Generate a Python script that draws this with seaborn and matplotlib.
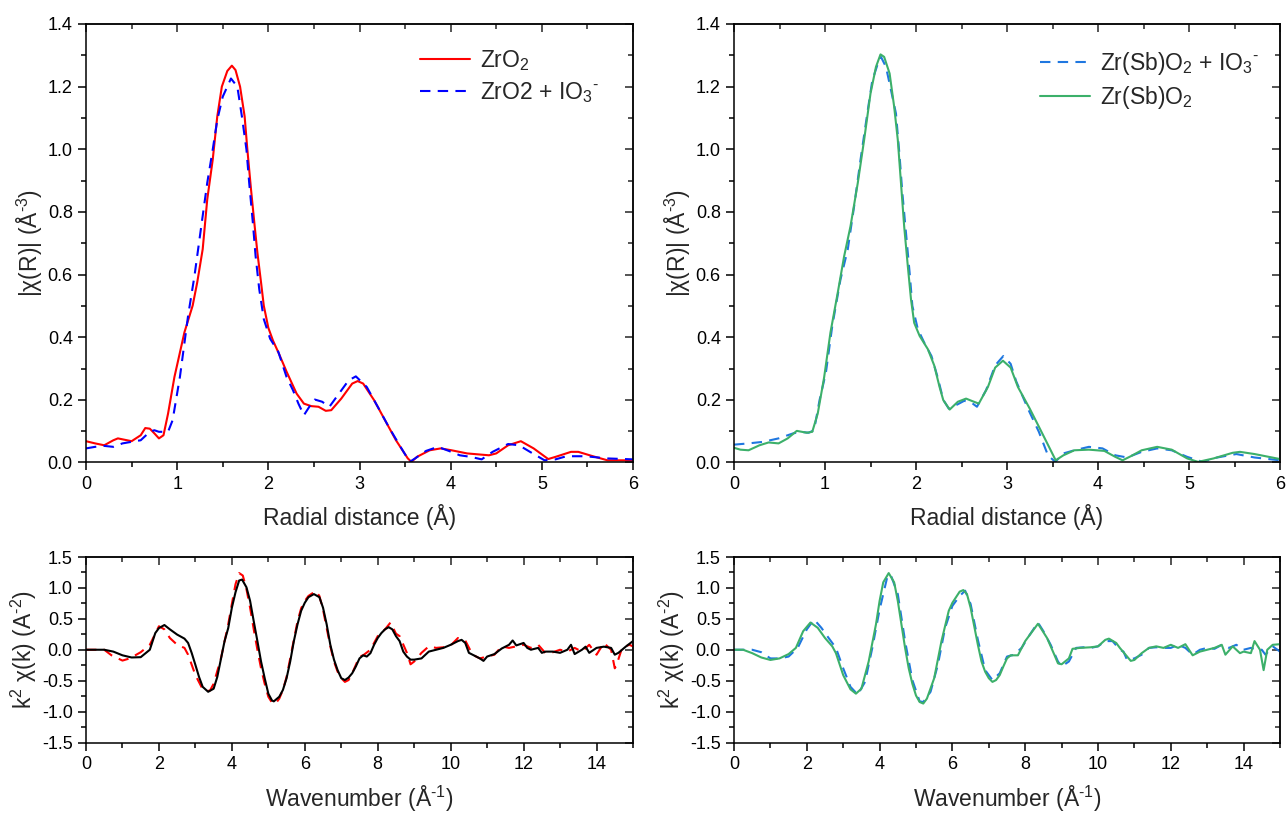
import numpy as np
import pandas as pd
import seaborn as sns
import matplotlib
matplotlib.use("Agg")
import matplotlib.pyplot as plt
from matplotlib.ticker import MultipleLocator

# ---------------- data: R-space (top-left) ----------------
r_zro2 = [0, 0.1, 0.2, 0.3, 0.35, 0.4, 0.5, 0.6, 0.65, 0.7, 0.75, 0.8, 0.85, 0.9, 0.97,
          1.08, 1.17, 1.22, 1.28, 1.33, 1.39, 1.44, 1.49, 1.55, 1.60, 1.64, 1.69, 1.74,
          1.77, 1.81, 1.85, 1.88, 1.92, 1.95, 2.0, 2.05, 2.12, 2.2, 2.31, 2.39, 2.47,
          2.55, 2.63, 2.69, 2.8, 2.92, 2.98, 3.04, 3.16, 3.28, 3.4, 3.53, 3.57, 3.63,
          3.77, 3.89, 4.01, 4.18, 4.42, 4.5, 4.63, 4.77, 4.91, 5.07, 5.15, 5.32, 5.4,
          5.56, 5.72, 6.0]
chi_zro2 = [0.068, 0.061, 0.055, 0.071, 0.077, 0.074, 0.068, 0.087, 0.110, 0.108, 0.093,
            0.077, 0.087, 0.156, 0.273, 0.416, 0.501, 0.575, 0.681, 0.840, 0.967, 1.105,
            1.200, 1.250, 1.267, 1.253, 1.200, 1.105, 0.999, 0.872, 0.755, 0.670, 0.575,
            0.501, 0.430, 0.390, 0.345, 0.290, 0.220, 0.188, 0.180, 0.178, 0.165, 0.167,
            0.204, 0.252, 0.260, 0.252, 0.199, 0.135, 0.071, 0.013, 0.002, 0.018, 0.039,
            0.045, 0.039, 0.029, 0.023, 0.029, 0.055, 0.068, 0.045, 0.011, 0.018, 0.034,
            0.034, 0.020, 0.007, 0.007]

r_zro2_io3 = [0, 0.1, 0.2, 0.3, 0.4, 0.5, 0.6, 0.7, 0.75, 0.8, 0.9, 0.95, 1.03, 1.12,
              1.19, 1.26, 1.33, 1.39, 1.44, 1.50, 1.59, 1.66, 1.71, 1.76, 1.79, 1.83,
              1.86, 1.90, 1.95, 2.02, 2.11, 2.2, 2.27, 2.33, 2.39, 2.45, 2.51, 2.59,
              2.67, 2.75, 2.88, 2.96, 3.08, 3.2, 3.32, 3.45, 3.55, 3.61, 3.73, 3.86,
              3.98, 4.1, 4.22, 4.34, 4.46, 4.63, 4.75, 4.87, 5.03, 5.15, 5.27, 5.48,
              5.72, 6.0]
chi_zro2_io3 = [0.045, 0.05, 0.053, 0.05, 0.061, 0.066, 0.071, 0.098, 0.103, 0.098, 0.098,
                0.135, 0.273, 0.469, 0.596, 0.745, 0.893, 0.999, 1.094, 1.168, 1.226,
                1.200, 1.105, 0.999, 0.893, 0.766, 0.660, 0.554, 0.458, 0.395, 0.353,
                0.273, 0.231, 0.188, 0.151, 0.178, 0.201, 0.194, 0.178, 0.210, 0.262,
                0.275, 0.241, 0.178, 0.114, 0.050, 0.002, 0.013, 0.037, 0.050, 0.037,
                0.023, 0.018, 0.010, 0.034, 0.059, 0.055, 0.034, 0.007, 0.010, 0.020,
                0.020, 0.013, 0.010]

# ---------------- data: R-space (top-right) ----------------
r_sb = [0, 0.07, 0.16, 0.28, 0.38, 0.49, 0.59, 0.69, 0.8, 0.86, 0.92, 0.99, 1.06, 1.14,
        1.21, 1.28, 1.36, 1.43, 1.5, 1.56, 1.61, 1.65, 1.71, 1.76, 1.8, 1.835, 1.87,
        1.91, 1.945, 1.98, 2.04, 2.13, 2.2, 2.26, 2.3, 2.37, 2.46, 2.55, 2.61, 2.69,
        2.79, 2.87, 2.955, 3.04, 3.12, 3.25, 3.37, 3.47, 3.535, 3.62, 3.74, 3.9, 4.07,
        4.19, 4.27, 4.36, 4.48, 4.65, 4.81, 4.98, 5.1, 5.27, 5.48, 5.56, 5.72, 6.0]
chi_sb = [0.047, 0.041, 0.039, 0.055, 0.064, 0.061, 0.077, 0.101, 0.095, 0.098, 0.156,
          0.271, 0.415, 0.542, 0.658, 0.754, 0.892, 1.030, 1.178, 1.263, 1.303, 1.295,
          1.242, 1.136, 1.030, 0.892, 0.754, 0.627, 0.521, 0.446, 0.404, 0.362, 0.310,
          0.240, 0.199, 0.169, 0.194, 0.204, 0.197, 0.188, 0.241, 0.303, 0.325, 0.303,
          0.241, 0.172, 0.103, 0.045, 0.007, 0.023, 0.039, 0.041, 0.037, 0.018, 0.007,
          0.020, 0.039, 0.050, 0.041, 0.013, 0.002, 0.013, 0.031, 0.034, 0.027, 0.011]

r_sb_io3 = [0, 0.16, 0.32, 0.49, 0.65, 0.73, 0.82, 0.88, 0.94, 1.01, 1.08, 1.17, 1.25,
            1.32, 1.39, 1.47, 1.52, 1.58, 1.615, 1.67, 1.725, 1.78, 1.82, 1.85, 1.89,
            1.93, 1.96, 2.02, 2.09, 2.17, 2.24, 2.3, 2.36, 2.44, 2.53, 2.61, 2.67, 2.77,
            2.87, 2.96, 3.04, 3.1, 3.23, 3.35, 3.45, 3.53, 3.62, 3.74, 3.9, 4.05, 4.19,
            4.32, 4.48, 4.65, 4.81, 4.98, 5.15, 5.31, 5.52, 5.72, 6.0]
chi_sb_io3 = [0.057, 0.061, 0.066, 0.077, 0.093, 0.098, 0.095, 0.103, 0.199, 0.287,
              0.436, 0.584, 0.680, 0.818, 0.966, 1.125, 1.220, 1.273, 1.295, 1.263,
              1.189, 1.114, 0.977, 0.861, 0.733, 0.606, 0.500, 0.426, 0.383, 0.340,
              0.270, 0.200, 0.172, 0.183, 0.197, 0.191, 0.178, 0.231, 0.310, 0.340,
              0.315, 0.260, 0.172, 0.098, 0.023, 0.002, 0.029, 0.039, 0.050, 0.045,
              0.023, 0.016, 0.034, 0.045, 0.039, 0.018, 0.002, 0.016, 0.027, 0.016, 0.007]

# ---------------- data: k-space (bottom-left) ----------------
k_zro2 = [0, 0.5, 0.75, 1.0, 1.25, 1.5, 1.75, 1.9, 2.0, 2.15, 2.3, 2.5, 2.7, 2.8, 2.9,
          3.0, 3.1, 3.2, 3.35, 3.5, 3.6, 3.7, 3.8, 3.9, 4.0, 4.1, 4.2, 4.28, 4.4, 4.5,
          4.6, 4.7, 4.8, 4.9, 5.0, 5.1, 5.15, 5.3, 5.4, 5.5, 5.6, 5.7, 5.8, 5.9, 6.0,
          6.1, 6.25, 6.4, 6.5, 6.6, 6.7, 6.8, 6.9, 7.0, 7.1, 7.2, 7.3, 7.4, 7.5, 7.6,
          7.7, 7.8, 7.9, 8.0, 8.1, 8.2, 8.3, 8.4, 8.5, 8.6, 8.7, 8.8, 8.9, 9.0, 9.2,
          9.4, 9.6, 9.8, 10.0, 10.2, 10.3, 10.4, 10.5, 10.6, 10.8, 10.9, 11.0, 11.2,
          11.4, 11.6, 11.7, 11.8, 11.9, 12.0, 12.1, 12.2, 12.4, 12.5, 12.6, 12.8, 13.0,
          13.2, 13.3, 13.4, 13.6, 13.7, 13.8, 14.0, 14.2, 14.4, 14.5, 14.6, 14.8, 15.0]
kchi_zro2 = [0, 0, -0.03, -0.09, -0.125, -0.12, 0, 0.27, 0.35, 0.40, 0.33, 0.245, 0.18,
             0.11, -0.055, -0.245, -0.44, -0.60, -0.68, -0.63, -0.44, -0.15, 0.14, 0.35,
             0.68, 0.93, 1.12, 1.135, 1.01, 0.79, 0.46, 0.14, -0.19, -0.46, -0.71, -0.82,
             -0.835, -0.76, -0.65, -0.46, -0.19, 0.14, 0.41, 0.63, 0.76, 0.85, 0.90, 0.85,
             0.68, 0.41, 0.08, -0.16, -0.33, -0.46, -0.49, -0.45, -0.38, -0.27, -0.14,
             -0.09, -0.11, -0.055, 0.08, 0.19, 0.27, 0.33, 0.365, 0.33, 0.22, 0.14, -0.03,
             -0.11, -0.16, -0.16, -0.14, -0.03, 0.0, 0.03, 0.08, 0.14, 0.16, 0.11, -0.05,
             -0.08, -0.14, -0.18, -0.11, -0.07, 0.02, 0.08, 0.15, 0.07, 0.09, 0.11, 0.03,
             0.0, 0.03, -0.05, -0.03, -0.03, -0.05, 0.0, 0.08, -0.07, 0.0, 0.05, -0.05,
             0.03, 0.05, 0.03, -0.08, -0.05, 0.05, 0.14]

k_zro2_io3 = [0, 0.5, 0.7, 1.0, 1.2, 1.5, 1.75, 2.0, 2.15, 2.3, 2.5, 2.7, 2.8, 3.0, 3.2,
              3.3, 3.4, 3.5, 3.7, 3.9, 4.0, 4.1, 4.2, 4.3, 4.4, 4.5, 4.6, 4.7, 4.8, 4.9,
              5.0, 5.1, 5.2, 5.3, 5.4, 5.5, 5.6, 5.7, 5.8, 5.9, 6.0, 6.1, 6.3, 6.4, 6.5,
              6.6, 6.7, 6.8, 6.9, 7.0, 7.1, 7.2, 7.3, 7.4, 7.5, 7.6, 7.8, 8.0, 8.2, 8.35,
              8.5, 8.6, 8.8, 8.9, 9.0, 9.2, 9.4, 9.6, 9.8, 10.0, 10.2, 10.4, 10.6, 10.8,
              11.0, 11.2, 11.4, 11.6, 11.8, 12.0, 12.2, 12.4, 12.6, 12.8, 13.0, 13.2,
              13.4, 13.6, 13.8, 14.0, 14.2, 14.4, 14.5, 14.55, 14.7, 14.9, 15.0]
kchi_zro2_io3 = [0, 0, -0.09, -0.175, -0.14, -0.04, 0.08, 0.38, 0.33, 0.19, 0.08, 0.03,
                 -0.08, -0.41, -0.64, -0.67, -0.66, -0.55, -0.14, 0.41, 0.74, 1.06, 1.24,
                 1.20, 0.98, 0.68, 0.33, 0.0, -0.30, -0.55, -0.76, -0.855, -0.87, -0.79,
                 -0.65, -0.44, -0.14, 0.16, 0.46, 0.67, 0.79, 0.87, 0.95, 0.87, 0.65, 0.35,
                 0.055, -0.19, -0.355, -0.46, -0.52, -0.49, -0.38, -0.245, -0.11, -0.09,
                 0.0, 0.22, 0.33, 0.44, 0.26, 0.22, -0.05, -0.235, -0.19, -0.05, 0.055,
                 0.03, 0.04, 0.07, 0.19, 0.15, -0.08, -0.14, -0.11, -0.08, 0.055, 0.03,
                 0.055, 0.08, 0.03, 0.08, -0.055, -0.04, 0.0, -0.03, 0.03, -0.03, 0.08,
                 -0.08, 0.11, 0.0, -0.30, -0.245, 0.03, 0.08, 0.055]

# ---------------- data: k-space (bottom-right) ----------------
k_sb = [0, 0.25, 0.5, 0.75, 1.0, 1.25, 1.5, 1.7, 1.9, 2.1, 2.3, 2.5, 2.7, 2.8, 3.0, 3.2,
        3.35, 3.5, 3.7, 3.9, 4.0, 4.1, 4.25, 4.4, 4.5, 4.6, 4.7, 4.8, 4.9, 5.0, 5.1, 5.2,
        5.3, 5.5, 5.7, 5.9, 6.0, 6.2, 6.3, 6.4, 6.5, 6.6, 6.7, 6.8, 6.9, 7.0, 7.1, 7.2,
        7.3, 7.4, 7.5, 7.6, 7.8, 8.0, 8.2, 8.35, 8.45, 8.6, 8.8, 8.9, 9.0, 9.2, 9.3, 9.5,
        9.8, 10.0, 10.2, 10.3, 10.5, 10.6, 10.8, 10.9, 11.0, 11.2, 11.4, 11.6, 11.8,
        12.0, 12.2, 12.4, 12.6, 12.8, 13.0, 13.2, 13.4, 13.5, 13.7, 13.9, 14.0, 14.2,
        14.3, 14.45, 14.55, 14.65, 14.8, 15.0]
kchi_sb = [0, 0, -0.055, -0.125, -0.165, -0.14, -0.07, 0.03, 0.30, 0.44, 0.355, 0.19,
           0.055, -0.055, -0.41, -0.64, -0.71, -0.63, -0.19, 0.41, 0.79, 1.09, 1.24, 1.09,
           0.79, 0.41, 0.03, -0.30, -0.55, -0.74, -0.845, -0.87, -0.79, -0.46, 0.14, 0.63,
           0.76, 0.94, 0.965, 0.90, 0.68, 0.38, 0.08, -0.19, -0.355, -0.46, -0.52, -0.49,
           -0.41, -0.27, -0.14, -0.09, -0.09, 0.14, 0.30, 0.42, 0.33, 0.19, -0.08, -0.22,
           -0.235, -0.14, 0.015, 0.03, 0.04, 0.055, 0.16, 0.18, 0.11, 0.03, -0.11, -0.18,
           -0.165, -0.055, 0.03, 0.055, 0.03, 0.08, 0.03, 0.09, -0.09, -0.03, 0.0, 0.03,
           0.08, -0.08, 0.055, -0.055, -0.03, -0.055, 0.14, 0.0, -0.33, 0.0, 0.08, 0.09]

k_sb_io3 = [0, 0.5, 0.75, 1.0, 1.25, 1.5, 1.75, 2.0, 2.2, 2.4, 2.6, 2.8, 3.0, 3.2, 3.4,
            3.6, 3.8, 4.0, 4.2, 4.3, 4.5, 4.7, 4.9, 5.1, 5.2, 5.4, 5.6, 5.8, 6.0, 6.2,
            6.35, 6.5, 6.7, 6.9, 7.1, 7.3, 7.5, 7.7, 7.9, 8.1, 8.35, 8.5, 8.7, 8.9, 9.0,
            9.2, 9.4, 9.6, 9.8, 10.0, 10.2, 10.4, 10.6, 10.7, 10.8, 11.0, 11.2, 11.4,
            11.6, 11.8, 12.0, 12.2, 12.4, 12.6, 12.8, 13.0, 13.2, 13.4, 13.6, 13.8, 14.0,
            14.2, 14.4, 14.5, 14.6, 14.8, 15.0]
kchi_sb_io3 = [0, 0, -0.04, -0.14, -0.14, -0.11, 0.03, 0.33, 0.49, 0.355, 0.19, 0.03,
               -0.30, -0.60, -0.725, -0.52, 0.03, 0.65, 1.15, 1.22, 0.90, 0.14, -0.49,
               -0.835, -0.845, -0.68, -0.245, 0.355, 0.71, 0.87, 0.955, 0.74, 0.16,
               -0.33, -0.49, -0.38, -0.11, -0.08, 0.03, 0.22, 0.44, 0.30, 0.08, -0.19,
               -0.27, -0.19, 0.03, 0.04, 0.03, 0.055, 0.14, 0.14, 0.0, -0.03, -0.165,
               -0.14, -0.08, 0.03, 0.04, 0.03, 0.03, 0.08, 0.03, -0.08, 0.0, 0.03, 0.015,
               0.08, 0.03, 0.08, 0.0, 0.03, 0.0, 0.0, -0.08, 0.055, -0.03]

# ---------------- labels ----------------
r_label = "Radial distance (Å)"
k_label = r"Wavenumber (Å$^{\text{-}1}$)"
r_ylabel = r"|χ(R)| (Å$^{\text{-}3}$)"
k_ylabel = r"k$^2$ χ(k) (A$^{\text{-}2}$)"
lab_zro2 = "ZrO$_2$"
lab_zro2_io3 = r"ZrO2 + IO$_3{}^{\text{-}}$"
lab_sb_io3 = r"Zr(Sb)O$_2$ + IO$_3{}^{\text{-}}$"
lab_sb = "Zr(Sb)O$_2$"

# ---------------- styling ----------------
sns.set_style("ticks")
plt.rcParams["font.family"] = ["Liberation Sans", "DejaVu Sans"]
plt.rcParams["mathtext.fontset"] = "custom"
plt.rcParams["mathtext.rm"] = "Liberation Sans"
plt.rcParams["mathtext.it"] = "Liberation Sans:italic"
plt.rcParams["mathtext.bf"] = "Liberation Sans:bold"
plt.rcParams["axes.linewidth"] = 1.1
plt.rcParams["axes.unicode_minus"] = False

RED = "#ff0000"
BLUE = "#0000ff"
LBLUE = "#1f77e0"
GREEN = "#3cb06a"
BLACK = "#000000"

fig = plt.figure(figsize=(12.87, 8.13), dpi=100)
W, H = 1287, 813

def make_ax(x0, x1, y0, y1):
    return fig.add_axes([x0 / W, 1 - y1 / H, (x1 - x0) / W, (y1 - y0) / H])

ax_tl = make_ax(86, 633, 24, 462.5)
ax_tr = make_ax(734, 1280, 24, 462.5)
ax_bl = make_ax(86, 633, 557, 742.5)
ax_br = make_ax(734, 1280, 557, 742.5)

LW = 1.5
DASH = (5, 3.5)

def line(ax, x, y, color, label=None, dashed=False):
    df = pd.DataFrame({"x": x, "y": y})
    sns.lineplot(data=df, x="x", y="y", color=color, lw=LW, label=label,
                 sort=False, estimator=None, ax=ax)
    if dashed:
        ax.lines[-1].set_dashes(DASH)

# top-left
line(ax_tl, r_zro2, chi_zro2, RED, lab_zro2)
line(ax_tl, r_zro2_io3, chi_zro2_io3, BLUE, lab_zro2_io3, dashed=True)
# top-right
line(ax_tr, r_sb_io3, chi_sb_io3, LBLUE, lab_sb_io3, dashed=True)
line(ax_tr, r_sb, chi_sb, GREEN, lab_sb)
# bottom-left
line(ax_bl, k_zro2_io3, kchi_zro2_io3, RED, dashed=True)
line(ax_bl, k_zro2, kchi_zro2, BLACK)
# bottom-right
line(ax_br, k_sb_io3, kchi_sb_io3, LBLUE, dashed=True)
line(ax_br, k_sb, kchi_sb, GREEN)

TICK_FS = 13
LABEL_FS = 16.5

def style(ax, xlim, ylim, xmaj, xmin, ymaj, ymin, xlabel, ylabel, yfmt):
    ax.set_xlim(*xlim)
    ax.set_ylim(*ylim)
    ax.xaxis.set_major_locator(MultipleLocator(xmaj))
    ax.xaxis.set_minor_locator(MultipleLocator(xmin))
    ax.yaxis.set_major_locator(MultipleLocator(ymaj))
    ax.yaxis.set_minor_locator(MultipleLocator(ymin))
    ax.yaxis.set_major_formatter(matplotlib.ticker.FormatStrFormatter(yfmt))
    ax.tick_params(which="both", direction="out", width=1.1, labelsize=TICK_FS,
                   colors="black")
    ax.tick_params(which="major", length=6)
    ax.tick_params(which="minor", length=3.5)
    for s in ax.spines.values():
        s.set_visible(True)
        s.set_linewidth(1.1)
        s.set_color("black")
    ax.set_xlabel(xlabel, fontsize=LABEL_FS, labelpad=8)
    ax.set_ylabel(ylabel, fontsize=LABEL_FS, labelpad=2)
    # mirrored inward ticks on top and right
    sx = ax.secondary_xaxis("top")
    sx.xaxis.set_major_locator(MultipleLocator(xmaj))
    sx.xaxis.set_minor_locator(MultipleLocator(xmin))
    sx.tick_params(which="both", direction="in", labeltop=False, width=1.1)
    sx.tick_params(which="major", length=6)
    sx.tick_params(which="minor", length=3.5)
    sy = ax.secondary_yaxis("right")
    sy.yaxis.set_major_locator(MultipleLocator(ymaj))
    sy.yaxis.set_minor_locator(MultipleLocator(ymin))
    sy.tick_params(which="both", direction="in", labelright=False, width=1.1)
    sy.tick_params(which="major", length=6)
    sy.tick_params(which="minor", length=3.5)

for ax in (ax_tl, ax_tr):
    style(ax, (0, 6), (0, 1.4), 1, 0.5, 0.2, 0.1, r_label, r_ylabel, "%.1f")
for ax in (ax_bl, ax_br):
    style(ax, (0, 15), (-1.5, 1.5), 2, 1, 0.5, 0.25, k_label, k_ylabel, "%.1f")

legend_kw = dict(loc="upper left", frameon=False, fontsize=LABEL_FS,
                 handlelength=2.2, handletextpad=0.45, labelspacing=0.3,
                 borderpad=0.0, borderaxespad=0.0)
ax_tl.legend(bbox_to_anchor=(0.61, 0.945), **legend_kw)
ax_tr.legend(bbox_to_anchor=(0.56, 0.94), **legend_kw)
for ax in (ax_bl, ax_br):
    lg = ax.get_legend()
    if lg is not None:
        lg.remove()

fig.savefig("out.png", dpi=100)
